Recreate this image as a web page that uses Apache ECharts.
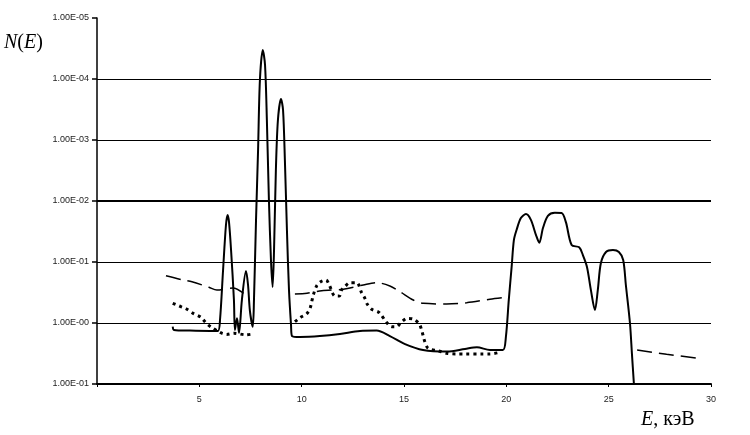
<!DOCTYPE html>
<html>
<head>
<meta charset="utf-8">
<script src="https://cdn.jsdelivr.net/npm/echarts@6/dist/echarts.min.js"></script>
<style>
  html, body { margin: 0; padding: 0; background: #fff; }
  #spectrum { width: 750px; height: 435px; }
</style>
</head>
<body>
<div id="spectrum"></div>
<script>
// энергия, кэВ и N(E) для трёх кривых
var solidE = [3.70, 3.76, 4.54, 5.52, 5.91, 6.01, 6.16, 6.30, 6.38, 6.45, 6.55, 6.69, 6.74, 6.84, 6.94, 7.08, 7.28, 7.38, 7.47, 7.61, 7.67, 7.77, 7.87, 7.96, 8.10, 8.21, 8.30, 8.40, 8.50, 8.58, 8.65, 8.74, 8.84, 8.99, 9.09, 9.18, 9.28, 9.38, 9.48, 9.53, 9.92, 10.89, 11.87, 12.85, 13.66, 14.31, 15.05, 15.93, 17.10, 17.98, 18.56, 19.20, 19.83, 19.98, 20.12, 20.26, 20.37, 20.50, 20.71, 20.96, 21.20, 21.45, 21.61, 21.79, 22.03, 22.37, 22.70, 22.91, 23.19, 23.56, 23.74, 23.94, 24.13, 24.33, 24.47, 24.62, 24.87, 25.21, 25.50, 25.71, 25.84, 26.04, 26.14, 26.23];
var solidN = [0.87, 0.77, 0.75, 0.74, 0.74, 1.12, 7.4, 40, 59, 45, 15.7, 2.4, 0.77, 1.2, 0.69, 2.4, 7.1, 4.2, 1.6, 0.87, 2.4, 49, 686, 9640, 29900, 17000, 2130, 104, 10.7, 3.9, 15.7, 322, 2130, 4700, 3100, 468, 33.5, 3.5, 0.93, 0.61, 0.59, 0.61, 0.66, 0.74, 0.75, 0.61, 0.45, 0.36, 0.34, 0.375, 0.40, 0.36, 0.36, 0.60, 2.4, 8.4, 23, 33.5, 52.7, 61, 49, 27.6, 20.7, 36, 57, 64, 63.5, 45, 19, 17.4, 13, 8.3, 3.5, 1.63, 3.5, 9.6, 14.6, 15.7, 14.6, 10.8, 4.2, 1.0, 0.30, 0.104];

var dashE = [3.37, 4.20, 4.64, 5.47, 5.86, 6.64, 7.38, 7.50, 9.67, 10.26, 10.98, 12.03, 13.01, 13.66, 14.31, 14.80, 15.45, 15.94, 17.08, 18.06, 19.20, 20.01, 23.0, 26.39, 27.83, 29.37];
var dashN = [5.96, 5.07, 4.75, 3.85, 3.47, 3.75, 2.7, null, 2.98, 3.07, 3.39, 3.57, 4.2, 4.58, 4.05, 3.26, 2.38, 2.1, 2.05, 2.15, 2.45, 2.64, null, 0.36, 0.307, 0.264];

var dotE = [3.70, 4.02, 4.35, 4.70, 5.08, 5.32, 5.55, 6.01, 6.34, 6.69, 7.28, 7.61, 8.0, 9.67, 9.95, 10.24, 10.41, 10.49, 10.57, 10.73, 10.93, 11.19, 11.35, 11.63, 11.84, 11.95, 12.11, 12.36, 12.69, 12.93, 13.09, 13.20, 13.42, 13.79, 14.12, 14.40, 14.64, 14.84, 15.16, 15.49, 15.75, 15.86, 15.94, 16.02, 16.18, 16.67, 17.08, 17.57, 17.98, 18.79, 19.20, 19.60];
var dotN = [2.1, 1.9, 1.71, 1.44, 1.24, 1.01, 0.87, 0.70, 0.65, 0.68, 0.64, 0.66, null, 1.05, 1.24, 1.41, 1.74, 2.23, 2.88, 4.05, 4.75, 5.07, 4.2, 2.77, 2.77, 3.47, 3.94, 4.58, 4.58, 3.14, 2.54, 2.05, 1.68, 1.48, 1.05, 0.87, 0.87, 1.01, 1.19, 1.15, 0.96, 0.77, 0.61, 0.49, 0.385, 0.35, 0.32, 0.31, 0.31, 0.31, 0.31, 0.326];

var yTicks = [0.1, 1, 10, 100, 1000, 10000, 100000];
var yTickLabels = ['1.00E-01', '1.00E-00', '1.00E-01', '1.00E-02', '1.00E-03', '1.00E-04', '1.00E-05'];

function pairs(xs, ys) {
  return xs.map(function (x, i) { return [x, ys[i]]; });
}

var dom = document.getElementById('spectrum');
var myChart = echarts.init(dom, null, { renderer: 'canvas' });

var option = {
  animation: false,
  backgroundColor: '#fff',
  grid: { left: 97, right: 39, top: 18, bottom: 51 },
  graphic: [
    {
      type: 'text', left: 4, top: 33,
      style: {
        text: '{i|N}{r|(}{i|E}{r|)}',
        rich: {
          i: { fontFamily: 'Liberation Serif', fontStyle: 'italic', fontSize: 20, fill: '#000' },
          r: { fontFamily: 'Liberation Serif', fontSize: 20, fill: '#000' }
        }
      }
    },
    {
      type: 'text', left: 641, top: 410,
      style: {
        text: '{i|E}{r|, кэВ}',
        rich: {
          i: { fontFamily: 'Liberation Serif', fontStyle: 'italic', fontSize: 20, fill: '#000' },
          r: { fontFamily: 'Liberation Serif', fontSize: 20, fill: '#000' }
        }
      }
    }
  ],
  xAxis: {
    type: 'value',
    min: 0, max: 30, interval: 5,
    axisLine: { lineStyle: { color: '#000', width: 2 } },
    axisTick: { show: true, length: 3, lineStyle: { color: '#000' } },
    axisLabel: {
      color: '#222', fontSize: 9, fontFamily: 'Liberation Sans', margin: 11,
      formatter: function (v) { return v === 0 ? '' : String(v); }
    },
    splitLine: { show: false }
  },
  yAxis: {
    type: 'log',
    logBase: 10,
    min: 0.1, max: 100000,
    axisLine: { show: true, lineStyle: { color: '#000', width: 1.5 } },
    axisTick: { show: true, length: 5, lineStyle: { color: '#000', width: 1.5 } },
    axisLabel: {
      color: '#222', fontSize: 9, fontFamily: 'Liberation Sans', margin: 8,
      formatter: function (v) {
        var k = yTicks.indexOf(+Number(v).toPrecision(6));
        return k >= 0 ? yTickLabels[k] : '';
      }
    },
    splitLine: { show: true, showMaxLine: false, lineStyle: { color: '#000', width: 1 } }
  },
  series: [
    {
      name: 'dashed', type: 'line', data: pairs(dashE, dashN),
      symbol: 'none', smooth: 0.3, connectNulls: false,
      lineStyle: { color: '#000', width: 1.5, type: [15, 7] },
      z: 2
    },
    {
      name: 'dotted', type: 'line', data: pairs(dotE, dotN),
      symbol: 'none', smooth: 0.3, connectNulls: false,
      lineStyle: { color: '#000', width: 3, type: [3, 4] },
      z: 3
    },
    {
      name: 'solid', type: 'line', data: pairs(solidE, solidN),
      symbol: 'none', smooth: 0.3,
      lineStyle: { color: '#000', width: 2 },
      markLine: {
        silent: true, symbol: 'none', label: { show: false },
        lineStyle: { color: '#000', width: 2, type: 'solid' },
        data: [{ yAxis: 100 }]
      },
      z: 4
    }
  ]
};

myChart.setOption(option);
window.addEventListener('resize', myChart.resize);
</script>
</body>
</html>
